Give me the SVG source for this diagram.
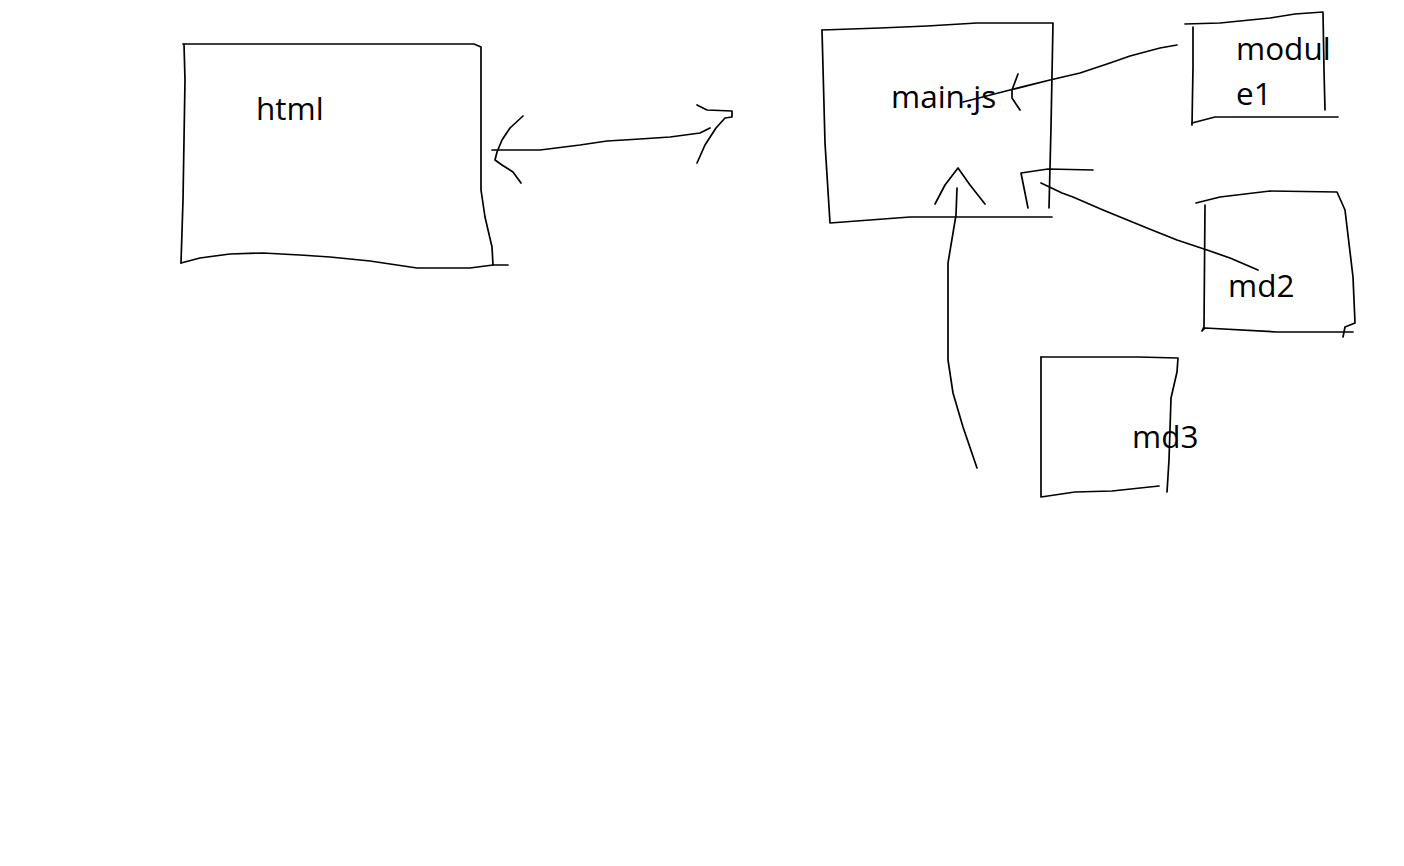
<svg xmlns="http://www.w3.org/2000/svg" width="1404" height="866" viewBox="0 0 1404 866">
<style>
.s{fill:none;stroke:#000;stroke-width:1.7;stroke-linejoin:round;stroke-linecap:round}
.t{font-family:"Open Sans","Noto Sans",sans-serif;font-size:31.5px;fill:#000}
</style>
<rect width="1404" height="866" fill="#fff"/>
<g id="html">
<polyline class="s" points="183,44 474,44 481,47 481,190 485,217 492,247 493,265"/>
<polyline class="s" points="184,44 185,80 183,200 181,263"/>
<polyline class="s" points="181,263 200,258 230,254 263,253 300,255 330,257 370,261 417,268 470,268 493,265 508,265"/>
<text class="t" x="256" y="120">html</text>
</g>
<g id="main">
<polyline class="s" points="822,30 880,28 927,26 977,23 1053,23 1051,127 1049,208"/>
<polyline class="s" points="822,30 825,143 830,223 870,220 910,217 1052,217"/>
<text class="t" x="891" y="108">main.js</text>
</g>
<g id="module1">
<polyline class="s" points="1185,24 1220,23 1270,18 1295,14 1323,12 1324,70 1325,110"/>
<polyline class="s" points="1193,27 1193,67 1192,125"/>
<polyline class="s" points="1192,123 1215,117 1338,117"/>
<text class="t" x="1236" y="60">modul</text>
<text class="t" x="1236" y="105">e1</text>
</g>
<g id="md2">
<polyline class="s" points="1196,203 1220,197 1270,191 1337,192 1345,210 1353,277 1355,323 1345,327 1343,337"/>
<polyline class="s" points="1205,205 1204,327 1202,331 1205,328 1277,332 1353,332"/>
<text class="t" x="1228" y="297">md2</text>
</g>
<g id="md3">
<polyline class="s" points="1041,357 1138,357 1178,358 1177,372 1171,398 1169,460 1167,492"/>
<polyline class="s" points="1041,357 1041,497 1075,492 1112,491 1159,486"/>
<text class="t" x="1132" y="448">md3</text>
</g>
<g id="connectors">
<polyline class="s" points="492,150 540,150 580,145 607,141 640,139 670,137 700,133 710,128"/>
<polyline class="s" points="523,116 510,128 502,140 497,152 495,160 502,165 513,172 521,183"/>
<polyline class="s" points="697,105 707,110 732,111 732,117 725,118 716,128 705,145 697,163"/>
<polyline class="s" points="963,102 1010,90 1050,80 1080,73 1110,63 1130,56 1160,48 1177,45"/>
<polyline class="s" points="1018,74 1012,90 1012,98 1020,110"/>
<polyline class="s" points="1041,183 1062,193 1073,197 1103,210 1147,228 1177,240 1207,250 1230,258 1258,270"/>
<polyline class="s" points="1028,208 1021,173 1048,169 1093,170"/>
<polyline class="s" points="935,204 945,185 958,168 970,185 985,204"/>
<polyline class="s" points="957,188 956,215 948,263 948,360 953,393 963,427 977,468"/>
</g>
</svg>
